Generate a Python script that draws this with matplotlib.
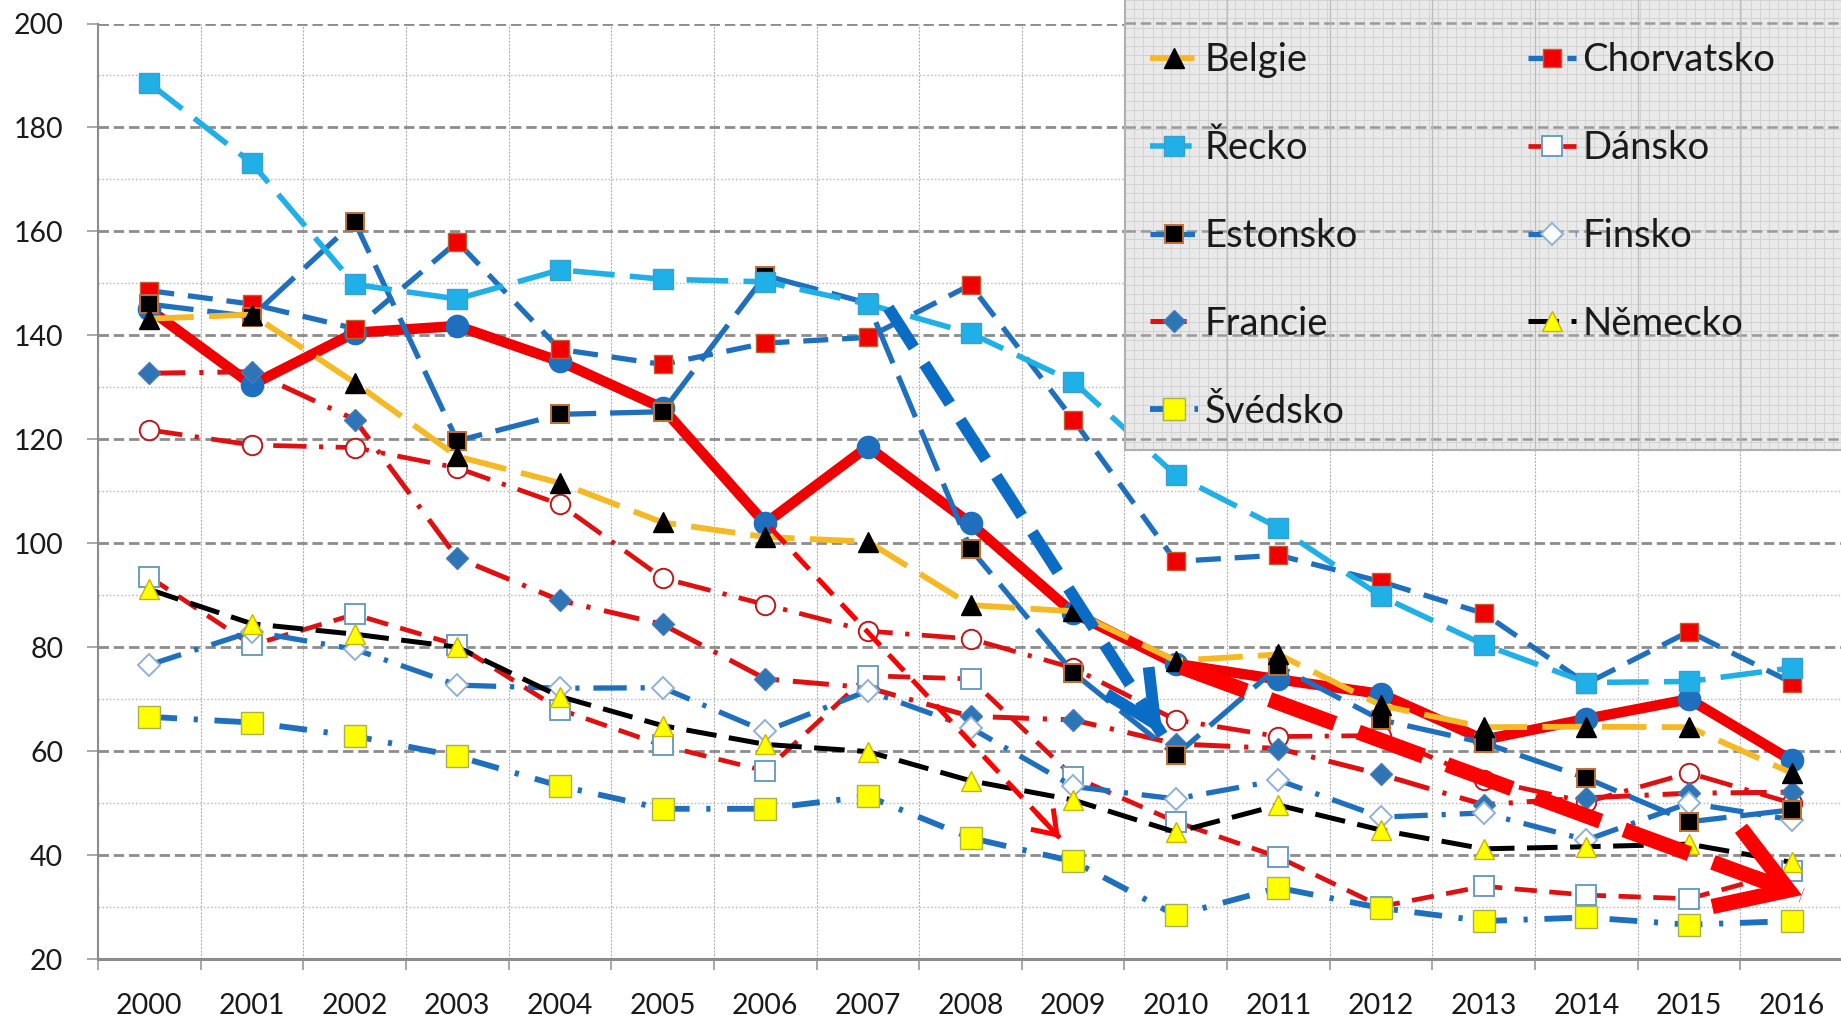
import matplotlib
matplotlib.use("Agg")
import matplotlib.pyplot as plt
import numpy as np

plt.rcParams['font.family'] = ['Lato', 'DejaVu Sans']
plt.rcParams['lines.scale_dashes'] = False

# ---------------- data ----------------
years = list(range(2000, 2017))
year_labels = [str(y) for y in years]

cesko      = [145, 130.5, 140.5, 141.8, 135, 126, 103.8, 118.6, 103.8, 86.6, 76.8, 73.8, 71, 62.2, 66.2, 70, 58.2]
belgie     = [143.2, 144, 130.9, 116.7, 111.6, 104, 101.2, 100.3, 88.1, 86.9, 77.4, 78.6, 68.8, 64.6, 64.7, 64.6, 55.8]
recko      = [188.5, 173.1, 149.8, 147, 152.6, 150.8, 150.3, 146, 140.4, 131.1, 113.1, 103, 89.8, 80.5, 73.2, 73.4, 76]
chorvatsko = [148.6, 146, 141.3, 158, 137.3, 134.4, 138.5, 139.6, 149.7, 123.8, 96.5, 97.7, 92.6, 86.5, 73, 83, 73.2]
dansko     = [93.5, 80.4, 86.3, 80.4, 68, 61.1, 56.2, 74.5, 73.9, 55.1, 46.4, 39.6, 30.1, 34, 32.3, 31.6, 37]
estonsko   = [146, 143.6, 161.9, 119.7, 124.8, 125.3, 151.5, 146.2, 98.9, 75.1, 59.2, 76.3, 66, 61.6, 54.8, 46.4, 48.7]
finsko     = [76.6, 83, 79.6, 72.7, 72.1, 72.2, 63.8, 71.6, 64.5, 53.2, 50.8, 54.4, 47.3, 48.1, 42.9, 50, 46.8]
francie    = [132.7, 133, 123.8, 97.2, 89, 84.4, 73.9, 72.2, 66.7, 66, 61.4, 60.5, 55.5, 49.7, 51, 51.9, 52.1]
nemecko    = [91.1, 84.5, 82.5, 80, 70.5, 64.9, 61.3, 59.9, 54.3, 50.6, 44.4, 49.6, 44.8, 41.2, 41.6, 42.1, 38.6]
svedsko    = [66.6, 65.5, 62.9, 59, 53.3, 48.9, 48.9, 51.3, 43.3, 38.8, 28.4, 33.7, 29.8, 27.3, 28, 26.6, 27.3]
dalsi      = [121.8, 118.9, 118.4, 114.5, 107.5, 93.3, 88.2, 83.1, 81.6, 76, 66, 62.8, 63, 54.5, 50.2, 55.8, 50]

# annotation arrows: (start, end) in data coords
arrow_blue      = [(2007.2, 145.3), (2009.87, 63.1)]
arrow_red_small = [(2006.05, 103.0), (2008.87, 43.3)]
arrow_red_big   = [(2010.05, 76.2), (2016.1, 32.3)]

legend_col1 = ['Belgie', 'Řecko', 'Estonsko', 'Francie', 'Švédsko']
legend_col2 = ['Chorvatsko', 'Dánsko', 'Finsko', 'Německo']

# ---------------- figure ----------------
W, H = 1841, 1018
fig = plt.figure(figsize=(W / 100, H / 100), dpi=100)
fig.patch.set_facecolor('white')
ax = fig.add_axes([98 / W, 1 - 959 / H, (1843 - 98) / W, (959 - 23.5) / H])
ax.set_xlim(1999.5, 2016.5)
ax.set_ylim(20, 200)
ax.set_axisbelow(True)

RED = '#f00000'
DBLUE = '#1f6fbf'
LBLUE = '#1fb0e8'
YEL = '#f5b925'

series = [
    ('Česko', cesko, dict(color=RED, lw=7.5, ls='-', marker='o', ms=16, mfc=DBLUE, mec=DBLUE, zorder=3)),
    ('dalsi', dalsi, dict(color='#e01010', lw=3.4, ls=(0, (24, 9, 3, 9)), marker='o', ms=14, mfc='white', mec='#c01818', mew=1.4, zorder=3.1)),
    ('Francie', francie, dict(color='#e01010', lw=3.6, ls=(0, (26, 10, 3, 10)), marker='D', ms=11, mfc='#2e75b6', mec='#4a7ab8', zorder=3.2)),
    ('Dánsko', dansko, dict(color='#e01010', lw=3.4, ls=(0, (16, 9)), marker='s', ms=14, mfc='white', mec='#6a9ec0', mew=1.4, zorder=3.3)),
    ('Finsko', finsko, dict(color=DBLUE, lw=3.8, ls=(0, (24, 10, 3, 10)), marker='D', ms=11, mfc='white', mec='#8fb0d8', mew=1.4, zorder=3.4)),
    ('Švédsko', svedsko, dict(color=DBLUE, lw=4.2, ls=(0, (20, 12, 3, 12)), marker='s', ms=16.5, mfc='#ffff00', mec='#a8b050', zorder=3.5)),
    ('Německo', nemecko, dict(color='black', lw=3.6, ls=(0, (22, 9)), marker='^', ms=14, mfc='#ffff00', mec='#c8b400', zorder=3.6)),
    ('Chorvatsko', chorvatsko, dict(color=DBLUE, lw=3.8, ls=(0, (18, 10)), marker='s', ms=12.5, mfc='#f00000', mec='#c06030', zorder=3.7)),
    ('Estonsko', estonsko, dict(color=DBLUE, lw=3.8, ls=(0, (32, 10)), marker='s', ms=13, mfc='black', mec='#c07030', mew=1.4, zorder=3.8)),
    ('Řecko', recko, dict(color=LBLUE, lw=4, ls=(0, (30, 11)), marker='s', ms=14.5, mfc=LBLUE, mec='#3a9ed0', zorder=3.9)),
    ('Belgie', belgie, dict(color=YEL, lw=4.2, ls=(0, (32, 11)), marker='^', ms=14.5, mfc='black', mec='black', zorder=4)),
]
handles = {}
for name, vals, st in series:
    ln, = ax.plot(years, vals, solid_capstyle='butt', dash_capstyle='butt', **st)
    handles[name] = ln

# arrows: dashed shaft + solid chevron head
def draw_arrow(pts, color, lw, dash, scale, hl, hw):
    (x0, y0), (x1, y1) = pts
    ax.plot([x0, x1], [y0, y1], color=color, lw=lw, ls=(0, dash),
            dash_capstyle='butt', zorder=6)
    hx, hy = x1 - 0.08 * (x1 - x0), y1 - 0.08 * (y1 - y0)
    ax.annotate('', xy=(x1, y1), xytext=(hx, hy), zorder=6,
                arrowprops=dict(arrowstyle=f'->,head_length={hl},head_width={hw}',
                                color=color, lw=lw, mutation_scale=scale,
                                shrinkA=0, shrinkB=0, joinstyle='miter',
                                capstyle='butt'))

draw_arrow(arrow_blue, '#0a6cc4', 8.5, (34, 14), 40, 0.92, 0.45)
draw_arrow(arrow_red_small, '#ff0000', 3.6, (16, 9), 20, 0.78, 0.55)
draw_arrow(arrow_red_big, '#ff0000', 11, (50, 18), 50, 0.95, 0.6)

# ticks & grid
ax.set_xticks(years)
ax.set_xticklabels(year_labels)
ax.set_xticks(np.arange(1999.5, 2017, 1), minor=True)
ax.set_yticks(range(20, 201, 20))
ax.set_yticks(range(30, 200, 20), minor=True)
ax.tick_params(axis='x', which='major', length=0, pad=24.5, labelsize=20.5, labelcolor='#1a1a1a')
ax.tick_params(axis='x', which='minor', length=8, width=1.2, color='#9a9a9a')
ax.tick_params(axis='y', which='major', length=8, width=1.2, color='#9a9a9a', pad=17,
               labelsize=20.5, labelcolor='#1a1a1a')
ax.tick_params(axis='y', which='minor', length=0)
ax.yaxis.grid(True, which='major', ls=(0, (7.5, 3.5)), color='#8c8c8c', lw=2)
ax.yaxis.grid(True, which='minor', ls=(0, (1.2, 1.5)), color='#bdbdbd', lw=1)
ax.xaxis.grid(True, which='minor', ls=(0, (1.5, 1)), color='#b0b0b0', lw=0.8)
ax.xaxis.grid(False, which='major')
for s in ['top', 'right']:
    ax.spines[s].set_visible(False)
ax.spines['left'].set_color('#8c8c8c')
ax.spines['left'].set_linewidth(1.5)
ax.spines['bottom'].set_color('#8c8c8c')
ax.spines['bottom'].set_linewidth(2.2)

# ---------------- legend panel ----------------
LX0, LY1 = 1125, 450
lw_, lh_ = W - LX0, LY1
legax = fig.add_axes([LX0 / W, 1 - LY1 / H, lw_ / W, lh_ / H])
legax.set_xlim(0, lw_)
legax.set_ylim(lh_, 0)
legax.set_facecolor('#e9e9e9')
legax.set_xticks(np.arange(0, lw_, 9.2))
legax.set_yticks(np.arange(0, lh_, 9.2))
legax.grid(True, color='#d3d3d3', lw=0.7)
legax.tick_params(length=0, labelbottom=False, labelleft=False)
for s in ['top', 'right']:
    legax.spines[s].set_visible(False)
for s in ['left', 'bottom']:
    legax.spines[s].set_color('#b0b0b0')
    legax.spines[s].set_linewidth(1.5)

# main gridlines seen through the panel
fig.canvas.draw()
for v in range(20, 201, 20):
    py = H - ax.transData.transform((2000, v))[1]
    if 0 <= py <= lh_:
        legax.axhline(py, ls=(0, (7.5, 3.5)), color='#9a9a9a', lw=1.8)
for xb in np.arange(1999.5, 2017, 1):
    px = ax.transData.transform((xb, 100))[0] - LX0
    if 0 < px < lw_:
        legax.axvline(px, color='#bcbcbc', lw=0.9)

def make_legend(names, x_px):
    leg = legax.legend([handles[n] for n in names], names, loc='upper left',
                       bbox_to_anchor=(x_px / W, 1 - 42 / H),
                       bbox_transform=fig.transFigure, frameon=False,
                       fontsize=27.5, handlelength=1.25, handletextpad=0.18,
                       labelspacing=1.36, borderpad=0, borderaxespad=0)
    for t in leg.get_texts():
        t.set_color('#1a1a1a')
    return leg

leg1 = make_legend(legend_col1, 1150)
legax.add_artist(leg1)
leg2 = make_legend(legend_col2, 1528)

fig.savefig('out.png', dpi=100)
